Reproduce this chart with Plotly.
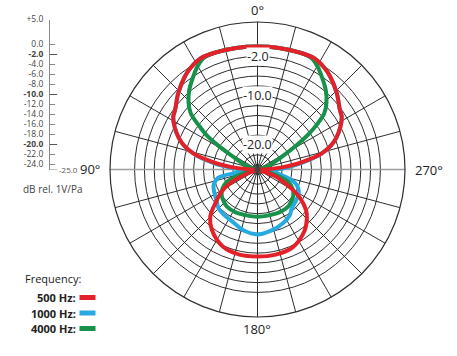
import math
import plotly.graph_objects as go

W, H = 457, 356

# ---------------- data ----------------
red_theta = [0, 10, 20, 27, 33, 38, 46, 54, 58, 63, 68, 72, 76, 79, 82, 85, 88, 90, 110, 113,
             117, 122, 128, 135, 143, 156, 168, 180, 192, 204, 217, 225, 230, 236, 240, 244, 249, 252, 270, 272,
             275, 278, 281, 284, 288, 292, 297, 302, 306, 314, 322, 327, 333, 340, 350, 360]
red_db = [0, 0.1, 0.3, 0.4, -0.2, -1.0, -2.6, -4.3, -4.8, -6.1, -7.7, -9.3, -11.6, -14.3, -17, -20, -23, -25, -25, -21.5,
          -18.5, -16.3, -14.3, -11.4, -9.6, -7.8, -7.3, -7.3, -7.3, -7.6, -9.2, -10.8, -12.1, -14.5, -16.7, -19, -21, -25, -25, -23,
          -20, -17, -14.3, -11.6, -9.3, -7.7, -6.1, -4.8, -4.3, -2.6, -1.0, -0.2, 0.4, 0.3, 0.1, 0]

blue_theta = [0, 10, 20, 27, 33, 38, 46, 54, 58, 63, 68, 72, 77, 82, 86, 90, 95, 99, 102, 110,
              121, 128, 135, 145, 155, 167, 180, 193, 205, 215, 221, 230, 240, 250, 258, 262, 268, 273, 278, 283,
              288, 292, 297, 302, 306, 314, 322, 327, 333, 340, 350, 360]
blue_db = [0, 0.1, 0.3, 0.4, -0.2, -1.0, -2.6, -4.3, -4.8, -6.1, -7.7, -9.3, -12.2, -16.3, -19.5, -21.5, -22, -20.5, -16.8, -15.5,
           -14.9, -14.5, -13.8, -13.5, -13.2, -12.3, -11.8, -12.3, -12.9, -13.6, -14.4, -14.9, -15.3, -16.8, -20.5, -22, -21.5, -19.5, -16.3, -12.2,
           -9.3, -7.7, -6.1, -4.8, -4.3, -2.6, -1.0, -0.2, 0.4, 0.3, 0.1, 0]

green_theta = [0, 10, 20, 25, 30, 36, 41, 46, 50, 53, 56, 58.5, 62, 67, 72, 80, 100, 105, 112, 119,
               126, 134, 141, 153, 165, 180, 195, 207, 219, 226, 234, 241, 248, 255, 260, 280, 288, 293, 298, 302,
               304.5, 307, 310, 314, 319, 324, 330, 335, 340, 350, 360]
green_db = [0, 0.1, 0.3, 0.3, -0.7, -2.4, -3.8, -5.5, -7.3, -10, -12.5, -15.5, -19.2, -21.5, -22.7, -25, -25, -22, -18.3, -16.8,
            -16.0, -15.5, -15.2, -15.2, -15.4, -15.4, -15.4, -15.2, -15.2, -15.5, -16.0, -16.8, -18.3, -22, -25, -25, -22.7, -21.5, -19.2, -15.5,
            -12.5, -10, -7.3, -5.5, -3.8, -2.4, -0.7, 0.3, 0.3, 0.1, 0]

series_names = ["500 Hz", "1000 Hz", "4000 Hz"]
series_colors = ["#e42128", "#27aae1", "#17924a"]

grid_db = [5, 0, -2, -4, -6, -8, -10, -12, -14, -16, -18, -20, -22, -24]
ring_labels = [-2, -10, -20]
angle_ticks = list(range(0, 360, 15))
angle_named = {0: "0°", 90: "90°", 180: "180°", 270: "270°"}

scale_vals = [5, 0, -2, -4, -6, -8, -10, -12, -14, -16, -18, -20, -22, -24]
bold_vals = [-2, -10, -20]
scale_min = -25

# ---------------- layout geometry ----------------
CX, CY, R = 257.5, 169.5, 147.5   # polar centre / radius in px
RMIN, RMAX = -25, 5

fig = go.Figure()

# grey 90-270 axis line
fig.add_trace(go.Scatterpolar(r=[RMAX, RMIN, RMAX], theta=[90, 90, 270], mode="lines",
                              line=dict(color="#9c9c9c", width=1.3), hoverinfo="skip", showlegend=False))

order = [(blue_theta, blue_db, 1), (green_theta, green_db, 2), (red_theta, red_db, 0)]
for th, db, i in order:
    fig.add_trace(go.Scatterpolar(r=db, theta=th, mode="lines", name=series_names[i],
                                  line=dict(color=series_colors[i], width=4, shape="spline", smoothing=1.0),
                                  hoverinfo="skip", showlegend=False))

# centre blob
fig.add_trace(go.Scatterpolar(r=[RMIN], theta=[0], mode="markers",
                              marker=dict(size=6, color="#444"), hoverinfo="skip", showlegend=False))

# invisible trace for the dB scale axis
fig.add_trace(go.Scatter(x=[0], y=[scale_min], mode="markers", marker=dict(opacity=0),
                         hoverinfo="skip", showlegend=False, xaxis="x", yaxis="y"))

scale_text = [("<b>%s</b>" if v in bold_vals else "%s") % (("+%.1f" % v) if v > 0 else ("%.1f" % v)) for v in scale_vals]

shapes = []
for v in bold_vals:
    shapes.append(dict(type="line", xref="x", yref="y", x0=0, x1=0.6, y0=v, y1=v,
                       line=dict(color="#555", width=1)))
shapes.append(dict(type="line", xref="x", yref="y", x0=0, x1=0.6, y0=scale_min, y1=scale_min,
                   line=dict(color="#888", width=1)))

annotations = []
annotations.append(dict(x=0.55, y=scale_min, xref="x", yref="y", text="-25.0", showarrow=False,
                        xanchor="left", yanchor="middle", font=dict(size=8, color="#555")))
annotations.append(dict(x=21 / W, y=(H - 188.5) / H, xref="paper", yref="paper", text="dB rel. 1V/Pa",
                        showarrow=False, xanchor="left", yanchor="middle", font=dict(size=10, color="#444")))

# ring labels on the 0° spoke
for v in ring_labels:
    ypx = CY - (v - RMIN) / (RMAX - RMIN) * R
    annotations.append(dict(x=CX / W, y=(H - ypx) / H, xref="paper", yref="paper", text="%.1f" % v,
                            showarrow=False, xanchor="center", yanchor="middle", bgcolor="white",
                            borderpad=0, font=dict(size=12.5, color="#222")))

# angle labels around the circle
for a, txt in angle_named.items():
    rad = math.radians(a + 90)
    ux, uy = math.cos(rad), math.sin(rad)
    pad = 8 if a in (90, 270) else 12
    px = CX + (R + pad) * ux
    py = CY - (R + pad) * uy
    xa = "right" if a == 90 else ("left" if a == 270 else "center")
    annotations.append(dict(x=px / W, y=(H - py) / H, xref="paper", yref="paper", text=txt,
                            showarrow=False, xanchor=xa, yanchor="middle",
                            font=dict(size=13, color="#222")))

# legend
annotations.append(dict(x=23 / W, y=(H - 278) / H, xref="paper", yref="paper", text="Frequency:",
                        showarrow=False, xanchor="left", yanchor="middle", font=dict(size=11, color="#222")))
leg_y = [297.5, 313, 328.5]
for i, name in enumerate(series_names):
    annotations.append(dict(x=77.5 / W, y=(H - leg_y[i]) / H, xref="paper", yref="paper", text="<b>%s:</b>" % name,
                            showarrow=False, xanchor="right", yanchor="middle", font=dict(size=11, color="#222")))
    shapes.append(dict(type="rect", xref="paper", yref="paper", x0=79.5 / W, x1=95.5 / W,
                       y0=(H - leg_y[i] - 2.5) / H, y1=(H - leg_y[i] + 2.5) / H,
                       fillcolor=series_colors[i], line=dict(width=0)))

fig.update_layout(
    width=W, height=H, margin=dict(l=0, r=0, t=0, b=0, autoexpand=False),
    paper_bgcolor="white", plot_bgcolor="rgba(0,0,0,0)",
    font=dict(family="Open Sans, Arial, sans-serif"),
    showlegend=False,
    polar=dict(
        domain=dict(x=[(CX - R) / W, (CX + R) / W], y=[(H - CY - R) / H, (H - CY + R) / H]),
        bgcolor="white",
        radialaxis=dict(range=[RMIN, RMAX], tickvals=grid_db, showticklabels=False, ticks="",
                        showline=False, gridcolor="#2e2e2e", gridwidth=0.8),
        angularaxis=dict(rotation=90, direction="counterclockwise", tickvals=angle_ticks,
                         showticklabels=False,
                         gridcolor="#2e2e2e", gridwidth=0.8, showline=True, linecolor="#2e2e2e",
                         linewidth=1.2, ticks=""),
    ),
    xaxis=dict(domain=[50 / W, 62 / W], range=[0, 1], visible=False, fixedrange=True),
    yaxis=dict(domain=[(H - 169.5) / H, (H - 19.5) / H], range=[RMIN, RMAX], anchor="x",
               tickvals=scale_vals, ticktext=scale_text, showline=True, linecolor="#888", linewidth=1,
               ticks="inside", ticklen=5, tickcolor="#888", tickwidth=1, showgrid=False, zeroline=False,
               ticklabelstandoff=4,
               tickfont=dict(size=8.5, color="#444"), fixedrange=True),
    shapes=shapes, annotations=annotations,
)

fig.write_html("out.html", config={"displayModeBar": False},
               post_script="document.body.style.margin='0px';document.body.style.overflow='hidden';")
